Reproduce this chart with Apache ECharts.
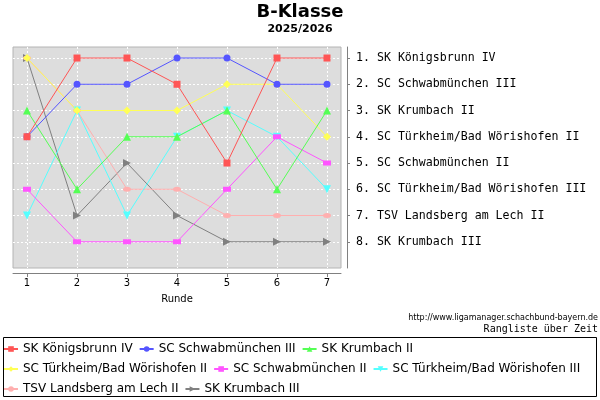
<!DOCTYPE html>
<html>
<head>
<meta charset="utf-8">
<script src="https://cdn.jsdelivr.net/npm/echarts@6/dist/echarts.min.js"></script>
<style>html,body{margin:0;padding:0;background:#fff}#c{width:600px;height:400px}</style>
</head>
<body>
<div id="c"></div>
<script>
var rounds = [1, 2, 3, 4, 5, 6, 7];
var ranks = [1, 2, 3, 4, 5, 6, 7, 8];
var teams = ['SK Königsbrunn IV', 'SC Schwabmünchen III', 'SK Krumbach II', 'SC Türkheim/Bad Wörishofen II', 'SC Schwabmünchen II', 'SC Türkheim/Bad Wörishofen III', 'TSV Landsberg am Lech II', 'SK Krumbach III'];
var tableLabels = ['1. SK Königsbrunn IV', '2. SC Schwabmünchen III', '3. SK Krumbach II', '4. SC Türkheim/Bad Wörishofen II', '5. SC Schwabmünchen II', '6. SC Türkheim/Bad Wörishofen III', '7. TSV Landsberg am Lech II', '8. SK Krumbach III'];
var rankKoenigsbrunn4 = [4, 1, 1, 2, 5, 1, 1];
var rankSchwabmuenchen3 = [4, 2, 2, 1, 1, 2, 2];
var rankKrumbach2 = [3, 6, 4, 4, 3, 6, 3];
var rankTuerkheim2 = [1, 3, 3, 3, 2, 2, 4];
var rankSchwabmuenchen2 = [6, 8, 8, 8, 6, 4, 5];
var rankTuerkheim3 = [7, 3, 7, 4, 3, 4, 6];
var rankLandsberg2 = [1, 3, 6, 6, 7, 7, 7];
var rankKrumbach3 = [1, 7, 5, 7, 8, 8, 8];

var allRanks = [rankKoenigsbrunn4, rankSchwabmuenchen3, rankKrumbach2, rankTuerkheim2, rankSchwabmuenchen2, rankTuerkheim3, rankLandsberg2, rankKrumbach3];
var colors = ['#FF5555', '#5555FF', '#55FF55', '#FFFF55', '#FF55FF', '#55FFFF', '#FFAFAF', '#808080'];
var symbols = ['rect', 'circle', 'triangle', 'diamond', 'rect', 'triangle', 'circle', 'triangle'];
var symbolSizes = [7, 7, 8, 8, [8, 5], 8, [8, 5], 8];
var symbolRotates = [0, 0, 0, 0, 0, 180, 0, -90];

var series = teams.map(function (name, i) {
  return {
    name: name,
    type: 'line',
    data: rounds.map(function (r, j) { return [r, allRanks[i][j]]; }),
    symbol: symbols[i],
    symbolSize: symbolSizes[i],
    symbolRotate: symbolRotates[i],
    showAllSymbol: true,
    z: 20 - i,
    itemStyle: { color: colors[i] },
    lineStyle: { color: colors[i], width: 1 },
    emphasis: { disabled: true }
  };
});

function legendRow(data, top) {
  return {
    data: data, left: 3, top: top, padding: 0, itemWidth: 14, itemHeight: 7, itemGap: 6,
    selectedMode: false,
    textStyle: { fontFamily: 'DejaVu Sans', fontSize: 12, color: '#000' }
  };
}

var chart = echarts.init(document.getElementById('c'));
chart.setOption({
  animation: false,
  color: colors,
  textStyle: { fontFamily: 'DejaVu Sans' },
  title: [
    { text: 'B-Klasse', left: 'center', top: 3, padding: 0, textStyle: { fontSize: 18, fontWeight: 'bold', color: '#000', fontFamily: 'DejaVu Sans' } },
    { text: '2025/2026', left: 'center', top: 24, padding: 0, textStyle: { fontSize: 11, fontWeight: 'bold', color: '#000', fontFamily: 'DejaVu Sans' } },
    { text: 'http://www.ligamanager.schachbund-bayern.de', right: 2, top: 314, padding: 0, textStyle: { fontSize: 8, fontWeight: 'normal', color: '#000', fontFamily: 'DejaVu Sans' } },
    { text: 'Rangliste über Zeit', right: 2, top: 324, padding: 0, textStyle: { fontSize: 10, fontWeight: 'normal', color: '#000', fontFamily: 'DejaVu Sans Mono' } }
  ],
  legend: [
    legendRow(teams.slice(0, 3), 343),
    legendRow(teams.slice(3, 6), 363),
    legendRow(teams.slice(6, 8), 383)
  ],
  graphic: [
    { type: 'rect', shape: { x: 3.5, y: 337.5, width: 593, height: 59 }, style: { fill: null, stroke: '#000', lineWidth: 1 }, silent: true }
  ],
  grid: {
    left: 13, top: 47, width: 328, height: 221,
    show: true, backgroundColor: '#DDDDDD', borderColor: '#B4B4B4', borderWidth: 1
  },
  xAxis: {
    type: 'value', min: 0.72, max: 7.28, offset: 5,
    name: 'Runde', nameLocation: 'middle', nameGap: 21,
    nameTextStyle: { fontSize: 10, color: '#000', fontFamily: 'DejaVu Sans' },
    axisLine: { show: true, lineStyle: { color: '#808080' } },
    axisTick: { show: true, customValues: rounds, length: 4, lineStyle: { color: '#808080' } },
    axisLabel: { customValues: rounds, fontSize: 10, color: '#000', margin: 5 },
    splitLine: { show: true, lineStyle: { color: '#FFFFFF', type: [2, 2], width: 1 } }
  },
  yAxis: [
    {
      type: 'value', inverse: true, min: 0.58, max: 9,
      axisLine: { show: false },
      axisTick: { show: false, customValues: ranks },
      axisLabel: { show: false, customValues: ranks },
      splitLine: { show: true, lineStyle: { color: '#FFFFFF', type: [2, 2], width: 1 } }
    },
    {
      type: 'value', position: 'right', inverse: true, min: 0.58, max: 9, offset: 6,
      axisLine: { show: true, lineStyle: { color: '#808080' } },
      axisTick: { show: true, customValues: ranks, length: 3, lineStyle: { color: '#808080' } },
      axisLabel: {
        customValues: ranks, margin: 9, fontFamily: 'DejaVu Sans Mono', fontSize: 11.6, color: '#000',
        formatter: function (v) { return tableLabels[Math.round(v) - 1]; }
      },
      splitLine: { show: false }
    }
  ],
  series: series
});
</script>
</body>
</html>
